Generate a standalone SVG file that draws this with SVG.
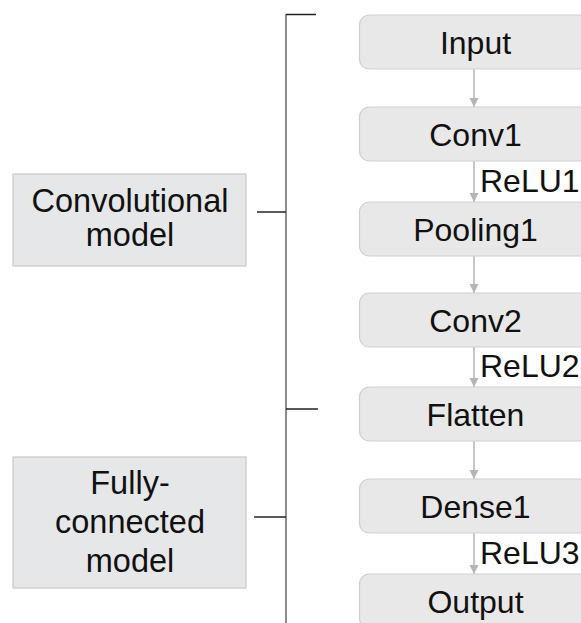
<svg xmlns="http://www.w3.org/2000/svg" width="581" height="623" viewBox="0 0 581 623">
<defs>
<style>
.node rect{fill:#e8e8e8;stroke:#d0d0d0;stroke-width:1.2}
.grp rect{fill:#e6e7e8;stroke:#c9c9c9;stroke-width:1.2}
text{font-family:"Liberation Sans",Arial,sans-serif;font-size:32px;fill:#111}
.node text,.grp text{text-anchor:middle}
.grp text{font-size:32.5px}
.arrow{stroke:#b5b5b5;stroke-width:1.5;fill:none;marker-end:url(#ah)}
.br{stroke:#222;stroke-width:1.5;fill:none}
.brv{stroke:#666;stroke-width:1.5;fill:none}
</style>
<marker id="ah" markerWidth="10" markerHeight="10" refX="9" refY="5" orient="auto" markerUnits="userSpaceOnUse">
<path d="M0,0.5 L9,5 L0,9.5 Z" fill="#b5b5b5"/>
</marker>
</defs>
<rect width="581" height="623" fill="#fff"/>
<g id="bracket">
<line class="brv" x1="286" y1="14" x2="286" y2="623"/>
<line class="br" x1="286" y1="14.5" x2="316" y2="14.5"/>
<line class="br" x1="286" y1="409" x2="318" y2="409"/>
<line class="br" x1="257" y1="212" x2="286" y2="212"/>
<line class="br" x1="254" y1="517" x2="286" y2="517"/>
</g>
<g id="conv-model" class="grp">
<rect x="13" y="174" width="233" height="92"/>
<text x="130" y="212">Convolutional</text>
<text x="130" y="246">model</text>
</g>
<g id="fc-model" class="grp">
<rect x="13" y="457" width="233" height="131"/>
<text x="130" y="494">Fully-</text>
<text x="130" y="533">connected</text>
<text x="130" y="572">model</text>
</g>
<g id="connectors">
<line class="arrow" x1="474" y1="69" x2="474" y2="107"/>
<line class="arrow" x1="474" y1="161" x2="474" y2="202"/>
<line class="arrow" x1="474" y1="256" x2="474" y2="293"/>
<line class="arrow" x1="474" y1="347" x2="474" y2="387"/>
<line class="arrow" x1="474" y1="441" x2="474" y2="479"/>
<line class="arrow" x1="474" y1="533" x2="474" y2="574"/>
<text x="480" y="192">ReLU1</text>
<text x="480" y="377">ReLU2</text>
<text x="480" y="564">ReLU3</text>
</g>
<g id="input" class="node"><rect x="359.5" y="15" width="240" height="54" rx="10"/><text x="475.5" y="53.5">Input</text></g>
<g id="conv1" class="node"><rect x="359.5" y="107" width="240" height="54" rx="10"/><text x="475.5" y="145.5">Conv1</text></g>
<g id="pooling1" class="node"><rect x="359.5" y="202" width="240" height="54" rx="10"/><text x="475.5" y="240.5">Pooling1</text></g>
<g id="conv2" class="node"><rect x="359.5" y="293" width="240" height="54" rx="10"/><text x="475.5" y="331.5">Conv2</text></g>
<g id="flatten" class="node"><rect x="359.5" y="387" width="240" height="54" rx="10"/><text x="475.5" y="425.5">Flatten</text></g>
<g id="dense1" class="node"><rect x="359.5" y="479" width="240" height="54" rx="10"/><text x="475.5" y="517.5">Dense1</text></g>
<g id="output" class="node"><rect x="359.5" y="574" width="240" height="54" rx="10"/><text x="475.5" y="612.5">Output</text></g>
</svg>
